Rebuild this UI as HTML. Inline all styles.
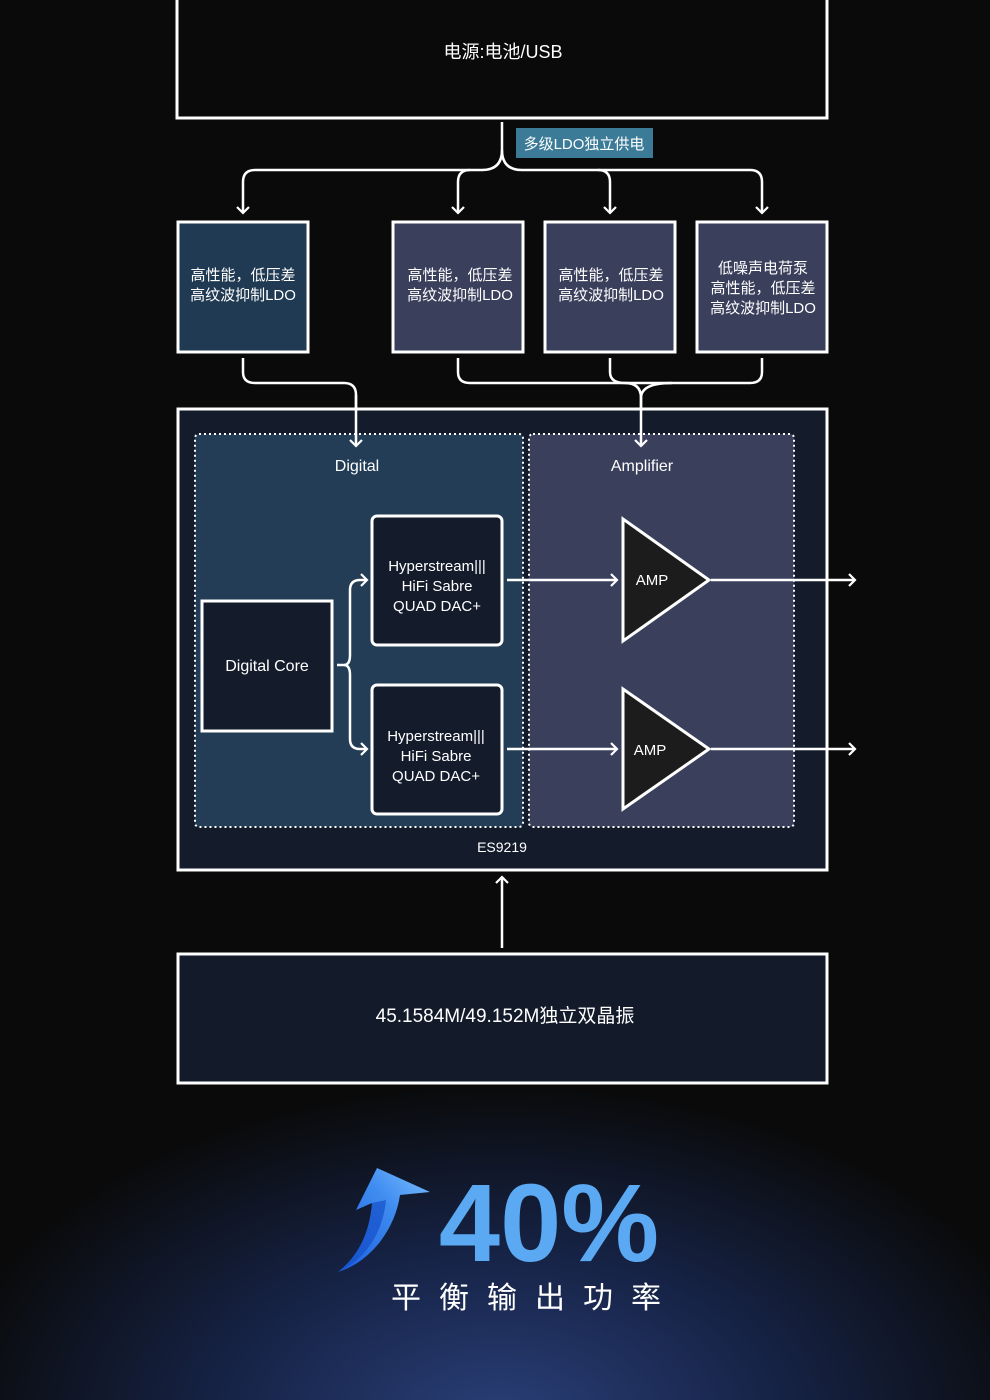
<!DOCTYPE html>
<html><head><meta charset="utf-8"><style>
html,body{margin:0;padding:0;background:#0a0a0a;}
svg{display:block}
text{font-family:"Liberation Sans","Noto Sans CJK SC",sans-serif;fill:#fff}
</style></head><body>
<svg width="990" height="1400" viewBox="0 0 990 1400" xmlns="http://www.w3.org/2000/svg">
<defs>
<radialGradient id="bg" cx="500" cy="1420" r="560" gradientUnits="userSpaceOnUse" gradientTransform="translate(0,1420) scale(1,0.6) translate(0,-1420)">
<stop offset="0" stop-color="#2a3f78"/><stop offset="0.5" stop-color="#162346"/><stop offset="1" stop-color="#0a0a0a"/>
</radialGradient>
<linearGradient id="ar" x1="0" y1="1" x2="1" y2="0"><stop offset="0" stop-color="#1a5ee0"/><stop offset="0.6" stop-color="#3f8cf0"/><stop offset="1" stop-color="#7cc0ff"/></linearGradient>
<marker id="m" markerWidth="14" markerHeight="14" refX="7" refY="7" orient="auto" markerUnits="userSpaceOnUse">
<path d="M1,1 L7,7 L1,13" fill="none" stroke="#fff" stroke-width="2.2"/></marker>
</defs>
<rect width="990" height="1400" fill="#0a0a0a"/>
<rect x="0" y="1050" width="990" height="350" fill="url(#bg)"/>
<g fill="none" stroke="#fff" stroke-width="3">
<rect x="177" y="-3" width="650" height="121" fill="#0a0a0a"/>
</g>
<text x="503" y="58" font-size="18" text-anchor="middle">电源:电池/USB</text>
<rect x="516" y="128" width="137" height="30" fill="#3b7b98"/>
<text x="584" y="149" font-size="15" text-anchor="middle">多级LDO独立供电</text>
<g fill="none" stroke="#fff" stroke-width="2.5">
<path d="M502,122 V150 Q502,170 482,170 H255 Q243,170 243,182 V213" marker-end="url(#m)"/>
<path d="M502,150 Q502,170 522,170 H750 Q762,170 762,182 V213" marker-end="url(#m)"/>
<path d="M470,170 Q458,170 458,182 V213" marker-end="url(#m)"/>
<path d="M598,170 Q610,170 610,182 V213" marker-end="url(#m)"/>
<path d="M243,358 V372 Q243,383 255,383 H344 Q356,383 356,395 V446" marker-end="url(#m)"/>
<path d="M458,358 V372 Q458,383 470,383 H750 Q762,383 762,372 V358"/>
<path d="M610,358 V372 Q610,383 625,383 Q641,383 641,398 V446" marker-end="url(#m)"/>
<path d="M672,383 Q641,383 641,398"/>
</g>
<g stroke="#fff" stroke-width="3">
<rect x="178" y="222" width="130" height="130" fill="#1f3a52"/>
<rect x="393" y="222" width="130" height="130" fill="#3a3f5c"/>
<rect x="545" y="222" width="130" height="130" fill="#3a3f5c"/>
<rect x="697" y="222" width="130" height="130" fill="#3a3f5c"/>
</g>
<g font-size="15" text-anchor="middle">
<text x="243" y="280">高性能，低压差</text><text x="243" y="300">高纹波抑制LDO</text>
<text x="460" y="280">高性能，低压差</text><text x="460" y="300">高纹波抑制LDO</text>
<text x="611" y="280">高性能，低压差</text><text x="611" y="300">高纹波抑制LDO</text>
<text x="763" y="273">低噪声电荷泵</text><text x="763" y="293">高性能，低压差</text><text x="763" y="313">高纹波抑制LDO</text>
</g>
<rect x="178" y="409" width="649" height="461" fill="#141c2c" stroke="#fff" stroke-width="3"/>
<rect x="195" y="434" width="328" height="393" fill="#223d55" stroke="#fff" stroke-width="2" stroke-dasharray="2,3" rx="4"/>
<rect x="529" y="434" width="265" height="393" fill="#3a3f5c" stroke="#fff" stroke-width="2" stroke-dasharray="2,3" rx="4"/>
<g fill="none" stroke="#fff" stroke-width="2.5">
<path d="M356,395 V446" marker-end="url(#m)"/>
<path d="M641,398 V446" marker-end="url(#m)"/>
</g>
<text x="357" y="471" font-size="16" text-anchor="middle">Digital</text>
<text x="642" y="471" font-size="16" text-anchor="middle">Amplifier</text>
<rect x="202" y="601" width="130" height="130" fill="#141c2c" stroke="#fff" stroke-width="3"/>
<text x="267" y="671" font-size="16" text-anchor="middle">Digital Core</text>
<rect x="372" y="516" width="130" height="129" rx="5" fill="#141c2c" stroke="#fff" stroke-width="3"/>
<rect x="372" y="685" width="130" height="129" rx="5" fill="#141c2c" stroke="#fff" stroke-width="3"/>
<g font-size="15" text-anchor="middle">
<text x="437" y="571">Hyperstream|||</text><text x="437" y="591">HiFi Sabre</text><text x="437" y="611">QUAD DAC+</text>
<text x="436" y="741">Hyperstream|||</text><text x="436" y="761">HiFi Sabre</text><text x="436" y="781">QUAD DAC+</text>
</g>
<g fill="none" stroke="#fff" stroke-width="2.5">
<path d="M337,665 H344 Q350,665 350,655 V590 Q350,580 360,580 H367" marker-end="url(#m)"/>
<path d="M344,665 Q350,665 350,675 V739 Q350,749 360,749 H367" marker-end="url(#m)"/>
<path d="M507,580 H617" marker-end="url(#m)"/>
<path d="M507,749 H617" marker-end="url(#m)"/>
<path d="M711,580 H855" marker-end="url(#m)"/>
<path d="M711,749 H855" marker-end="url(#m)"/>
</g>
<path d="M623,519 L623,641 L709,580 Z" fill="#1c1c1c" stroke="#fff" stroke-width="3" stroke-linejoin="miter"/>
<path d="M623,689 L623,809 L709,749 Z" fill="#1c1c1c" stroke="#fff" stroke-width="3"/>
<text x="652" y="585" font-size="15" text-anchor="middle">AMP</text>
<text x="650" y="755" font-size="15" text-anchor="middle">AMP</text>
<text x="502" y="852" font-size="14" text-anchor="middle">ES9219</text>
<path d="M502,948 V877" fill="none" stroke="#fff" stroke-width="2.5" marker-end="url(#m)"/>
<rect x="178" y="954" width="649" height="129" fill="#131b2b" stroke="#fff" stroke-width="3"/>
<text x="505" y="1022" font-size="19" text-anchor="middle">45.1584M/49.152M独立双晶振</text>
<path d="M338,1272 C370,1262 395,1230 400,1195 L430,1192 L377,1168 L356,1210 L372,1203 C370,1230 360,1255 338,1272 Z" fill="url(#ar)"/>
<path d="M372,1203 C370,1230 360,1255 338,1272 C362,1262 383,1235 386,1200 Z" fill="#1650c8" opacity="0.7"/>
<text x="549" y="1261" font-size="110" font-weight="bold" text-anchor="middle" style="fill:#5aa9f2">40%</text>
<text x="535" y="1308" font-size="30" text-anchor="middle" letter-spacing="18" style="fill:#fff">平衡输出功率</text>
</svg>
</body></html>
